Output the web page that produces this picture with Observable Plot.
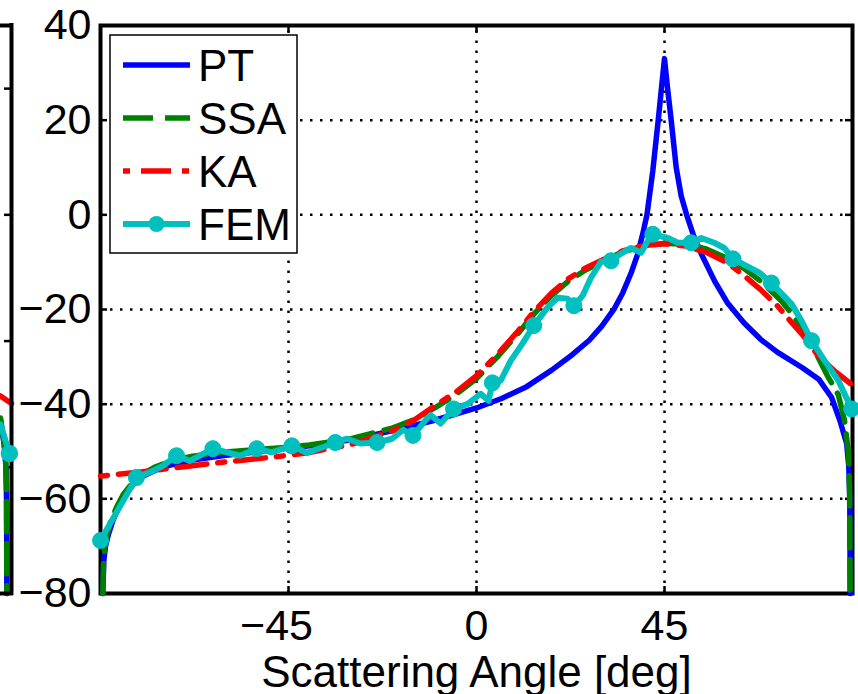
<!DOCTYPE html>
<html><head><meta charset="utf-8">
<script src="https://cdn.jsdelivr.net/npm/d3@7"></script>
<script src="https://cdn.jsdelivr.net/npm/@observablehq/plot@0.6"></script>
<style>
html,body{margin:0;padding:0;background:#fff;}
#wrap{position:relative;width:858px;height:694px;overflow:hidden;background:#fff;font-family:"Liberation Sans",Arial,Helvetica,sans-serif;}
#wrap svg{position:absolute;left:0;top:0;overflow:visible;}
</style></head><body><div id="wrap"></div>
<script>
// ---------- data ----------
const xTicks = [-45, 0, 45];
const yTicks = [40, 20, 0, -20, -40, -60, -80];
const xGrid = [-45, 0, 45];
const yGrid = [20, 0, -20, -40, -60];
const xLabel = "Scattering Angle [deg]";
const seriesNames = ["PT", "SSA", "KA", "FEM"];

const ptCurve = [[-89.45,-80],[-89.2,-73],[-88.8,-70],[-88.1,-67.5],[-87,-64.5],[-85.5,-61.5],[-84,-59],[-82,-56.8],[-80,-55.3],[-77,-54],[-73,-52.8],[-68,-51.8],[-60,-50.8],[-50,-49.8],[-40,-48.8],[-30,-47.5],[-20,-45.6],[-10,-43.4],[0,-40.8],[6,-38.8],[12,-36.3],[18,-32.8],[23,-29.5],[27,-26.5],[30,-23.5],[33,-19.8],[35,-16.5],[37,-12.3],[38.5,-8.5],[39.8,-4],[40.8,0],[42.2,9.3],[43.5,20],[44.3,27],[45,33],[45.7,27],[46.6,20],[47.8,10],[49,4],[50.3,0],[52,-4.5],[54,-8.6],[57,-14],[60,-18.5],[64,-22.8],[68,-26.3],[72,-29],[78,-32.3],[82,-34.8],[85,-38.6],[87,-43.5],[88.6,-48.3],[89.1,-53],[89.35,-60],[89.45,-80]];

const ssaCurve = [[-89.45,-80],[-89.3,-74],[-89,-70.5],[-88.4,-67.5],[-87.5,-64.5],[-86,-61.5],[-84.5,-59],[-82.5,-56.8],[-80,-54.8],[-77,-53.3],[-73,-52],[-68,-51],[-60,-50.1],[-50,-49.4],[-45,-49.1],[-40,-48.6],[-30,-47.3],[-20,-45],[-15,-43.3],[-10,-40.8],[-5,-38],[0,-34.6],[5,-30],[10,-25],[13.7,-21],[18,-17],[22,-14],[26,-11.7],[30,-9.9],[35,-7.8],[40,-6.6],[45,-6],[50,-6.2],[55,-7.2],[60,-9.2],[64,-11.3],[68,-14],[73,-18.2],[76,-21.5],[80,-27],[82,-30.5],[84,-34],[86.6,-38],[88.1,-43.5],[89,-50],[89.3,-58],[89.45,-80]];

const kaCurve = [[-90,-55.2],[-80,-54.3],[-70,-53.2],[-60,-52.2],[-50,-51.3],[-45,-50.8],[-40,-50.2],[-30,-48.5],[-20,-45.6],[-15,-43.4],[-9.4,-40],[-5,-37.5],[0,-34],[5,-29.5],[10,-24.5],[13.7,-20.5],[18,-16.5],[22,-13.5],[26,-11.3],[30,-9.6],[35,-7.6],[40,-6.5],[45,-6.1],[50,-6.6],[55,-7.9],[60,-10.1],[64,-12.8],[68,-15.8],[72,-19.2],[75,-22.3],[78,-25.3],[82,-30],[86,-33.2],[90,-36]];

const femCurve = [[-90,-68.8],[-81.4,-55.5],[-78,-54.3],[-75,-53],[-71.8,-50.9],[-68.6,-52],[-63.1,-49.4],[-56.6,-50.9],[-52.6,-49.4],[-49,-50.2],[-44.2,-48.8],[-40.6,-50.3],[-36.5,-49],[-33.8,-48.1],[-31,-47.3],[-27.8,-48.3],[-23.8,-48.1],[-20.2,-47.3],[-17.5,-45.4],[-15.2,-46.6],[-12,-43.2],[-11,-42.3],[-8.6,-44.1],[-5.5,-41],[-2.2,-40],[1,-37.8],[2.9,-39.3],[3.8,-35.5],[5.8,-35],[8.2,-30.8],[11,-27.2],[13.7,-23.4],[17,-19.6],[19.4,-17.5],[21.8,-17.7],[23.3,-19.2],[25.4,-17.1],[27.4,-13.3],[29.8,-9.9],[32.2,-9.7],[34.6,-8.2],[37,-7],[39.4,-8],[41,-5.5],[42.2,-4.1],[45.8,-4.9],[48.2,-5.9],[51.4,-5.9],[53.8,-4.9],[56.9,-5.9],[59.3,-7],[61.4,-9.3],[64.6,-10.8],[67.7,-12.2],[70.6,-14.4],[75.4,-18.8],[77.8,-22.4],[80.2,-26.6],[83.3,-30.8],[86.6,-35],[89.8,-41]];
const femMarkerAngles = [-90,-81.4,-71.8,-63.1,-52.6,-44.2,-33.8,-23.8,-15.2,-5.5,3.8,13.7,23.3,32.2,42.2,51.4,61.4,70.6,80.2,89.8];

// right edge of the neighbouring (left) subplot, its own y scale
const leftYTicks = [0, -20, -40, -60];
const leftPT  = [[87.4,-52.5],[88.3,-56.5],[88.7,-60],[88.85,-66],[88.9,-80]];
const leftSSA = [[87.4,-52.2],[88.2,-56],[88.6,-58.6],[88.8,-63],[88.9,-80]];
const leftKA  = [[87.4,-48.7],[90,-49.9]];
const leftFEM = [[87.4,-53.2],[89.5,-57.8]];
const leftFEMMarkers = [89.5];

// ---------- layout / style ----------
const W = 858, H = 694, mL = 100, mR = 6, mT = 25, mB = 101;
const xDom = [-90, 90], yDom = [-80, 40];
const uX = (xDom[1]-xDom[0])/(W-mL-mR), uY = (yDom[1]-yDom[0])/(H-mT-mB);
const tickLen = 7;
const FONT = '"Liberation Sans", Arial, Helvetica, sans-serif';
const C = {PT:"#0000ff", SSA:"#008000", KA:"#ff0000", FEM:"#00bfbf"};
const DASH = {PT:null, SSA:"30,12", KA:"7,11,30,11", FEM:null};
const LW = 5.5, LWF = 6, MR = 8;
const MINUS = "\u2212";

const obj = a => a.map(([angle, value]) => ({angle, value}));
const markersOf = (curve, angles) => obj(curve.filter(([a]) => angles.includes(a)));
const fmtX = d => d < 0 ? MINUS + (-d) + "\u2007" : String(d);
const fmtY = d => d < 0 ? MINUS + (-d) : String(d);
const gridStyle = {stroke:"black", strokeWidth:2.5, strokeDasharray:"2.5,7.5"};
const tickStyle = {stroke:"black", strokeWidth:2.5};
const innerY = yTicks.filter(v => v > yDom[0] && v < yDom[1]);

const main = Plot.plot({
  width: W, height: H, marginLeft: mL, marginRight: mR, marginTop: mT, marginBottom: mB,
  x: {domain: xDom, label: null},
  y: {domain: yDom, label: null},
  style: {fontFamily: FONT, background: "transparent", color: "black", overflow: "visible"},
  marks: [
    Plot.ruleX(xGrid, {x: d => d, y1: yDom[0], y2: yDom[1], ...gridStyle}),
    Plot.ruleY(yGrid, {y: d => d, x1: xDom[0], x2: xDom[1], ...gridStyle}),
    Plot.ruleX(xTicks, {x: d => d, y1: yDom[0], y2: yDom[0] + tickLen*uY, ...tickStyle}),
    Plot.ruleX(xTicks, {x: d => d, y1: yDom[1], y2: yDom[1] - tickLen*uY, ...tickStyle}),
    Plot.ruleY(innerY, {y: d => d, x1: xDom[0], x2: xDom[0] + tickLen*uX, ...tickStyle}),
    Plot.ruleY(innerY, {y: d => d, x1: xDom[1] - tickLen*uX, x2: xDom[1], ...tickStyle}),
    Plot.frame({stroke: "black", strokeWidth: 4}),
    Plot.axisX({ticks: xTicks, tickSize: 0, tickPadding: 16, fontSize: 43, tickFormat: fmtX, label: null}),
    Plot.axisY({ticks: yTicks, tickSize: 0, tickPadding: 9, fontSize: 43, tickFormat: fmtY, label: null}),
    Plot.text([xLabel], {text: d => d, frameAnchor: "bottom", dy: 93, lineAnchor: "bottom", fontSize: 44}),
    Plot.line(obj(ptCurve), {x: "angle", y: "value", stroke: C.PT, strokeWidth: LW, strokeLinejoin: "round"}),
    Plot.line(obj(ssaCurve), {x: "angle", y: "value", stroke: C.SSA, strokeWidth: LW, strokeDasharray: DASH.SSA}),
    Plot.line(obj(kaCurve), {x: "angle", y: "value", stroke: C.KA, strokeWidth: LW, strokeDasharray: DASH.KA}),
    Plot.line(obj(femCurve), {x: "angle", y: "value", stroke: C.FEM, strokeWidth: LWF, strokeLinejoin: "round"}),
    Plot.dot(markersOf(femCurve, femMarkerAngles), {x: "angle", y: "value", r: MR, fill: C.FEM, stroke: C.FEM, strokeWidth: 1})
  ]
});

// neighbouring subplot sliver
const sW = 18, sMR = 7;
const sXDom = [87.4, 90], sYDom = [-80, 10];
const sUX = (sXDom[1]-sXDom[0])/(sW-sMR);
const sliver = Plot.plot({
  width: sW, height: H, marginLeft: 0, marginRight: sMR, marginTop: mT, marginBottom: mB,
  x: {domain: sXDom, axis: null}, y: {domain: sYDom, axis: null},
  style: {background: "transparent", overflow: "visible"},
  marks: [
    Plot.ruleY(leftYTicks, {y: d => d, x1: sXDom[1] - tickLen*sUX, x2: sXDom[1], ...tickStyle}),
    Plot.line(obj(leftPT), {x: "angle", y: "value", stroke: C.PT, strokeWidth: LW}),
    Plot.line(obj(leftSSA), {x: "angle", y: "value", stroke: C.SSA, strokeWidth: LW, strokeDasharray: DASH.SSA}),
    Plot.line(obj(leftKA), {x: "angle", y: "value", stroke: C.KA, strokeWidth: LW, strokeDasharray: DASH.KA, strokeDashoffset: 20}),
    Plot.ruleY(sYDom, {y: d => d, x1: sXDom[0], x2: sXDom[1], stroke: "black", strokeWidth: 4, strokeLinecap: "square"}),
    Plot.ruleX([sXDom[1]], {x: d => d, y1: sYDom[0], y2: sYDom[1], stroke: "black", strokeWidth: 4, strokeLinecap: "square"}),
    Plot.line(obj(leftFEM), {x: "angle", y: "value", stroke: C.FEM, strokeWidth: LWF}),
    Plot.dot(markersOf(leftFEM, leftFEMMarkers), {x: "angle", y: "value", r: MR, fill: C.FEM, stroke: C.FEM})
  ]
});

// legend
const legBox = {x: 110, y: 35, w: 187, h: 218};
const legRow0 = 65, legStep = 53, legLine = [123, 190], legText = 198;
const leg = d3.create("svg").attr("width", W).attr("height", H).style("pointer-events", "none");
leg.append("rect").attr("x", legBox.x).attr("y", legBox.y).attr("width", legBox.w).attr("height", legBox.h)
  .attr("fill", "white").attr("stroke", "black").attr("stroke-width", 1.5);
seriesNames.forEach((name, i) => {
  const y = legRow0 + i*legStep;
  const ln = leg.append("line").attr("x1", legLine[0]).attr("x2", legLine[1]).attr("y1", y).attr("y2", y)
    .attr("stroke", C[name]).attr("stroke-width", name === "FEM" ? LWF : LW);
  if (DASH[name]) ln.attr("stroke-dasharray", DASH[name]);
  if (name === "FEM") leg.append("circle").attr("cx", (legLine[0]+legLine[1])/2).attr("cy", y).attr("r", MR).attr("fill", C.FEM);
  leg.append("text").attr("x", legText).attr("y", y + 16).attr("font-family", FONT).attr("font-size", 44)
    .attr("fill", "black").text(name);
});

const wrap = document.getElementById("wrap");
wrap.appendChild(main);
wrap.appendChild(sliver);
wrap.appendChild(leg.node());
</script></body></html>
